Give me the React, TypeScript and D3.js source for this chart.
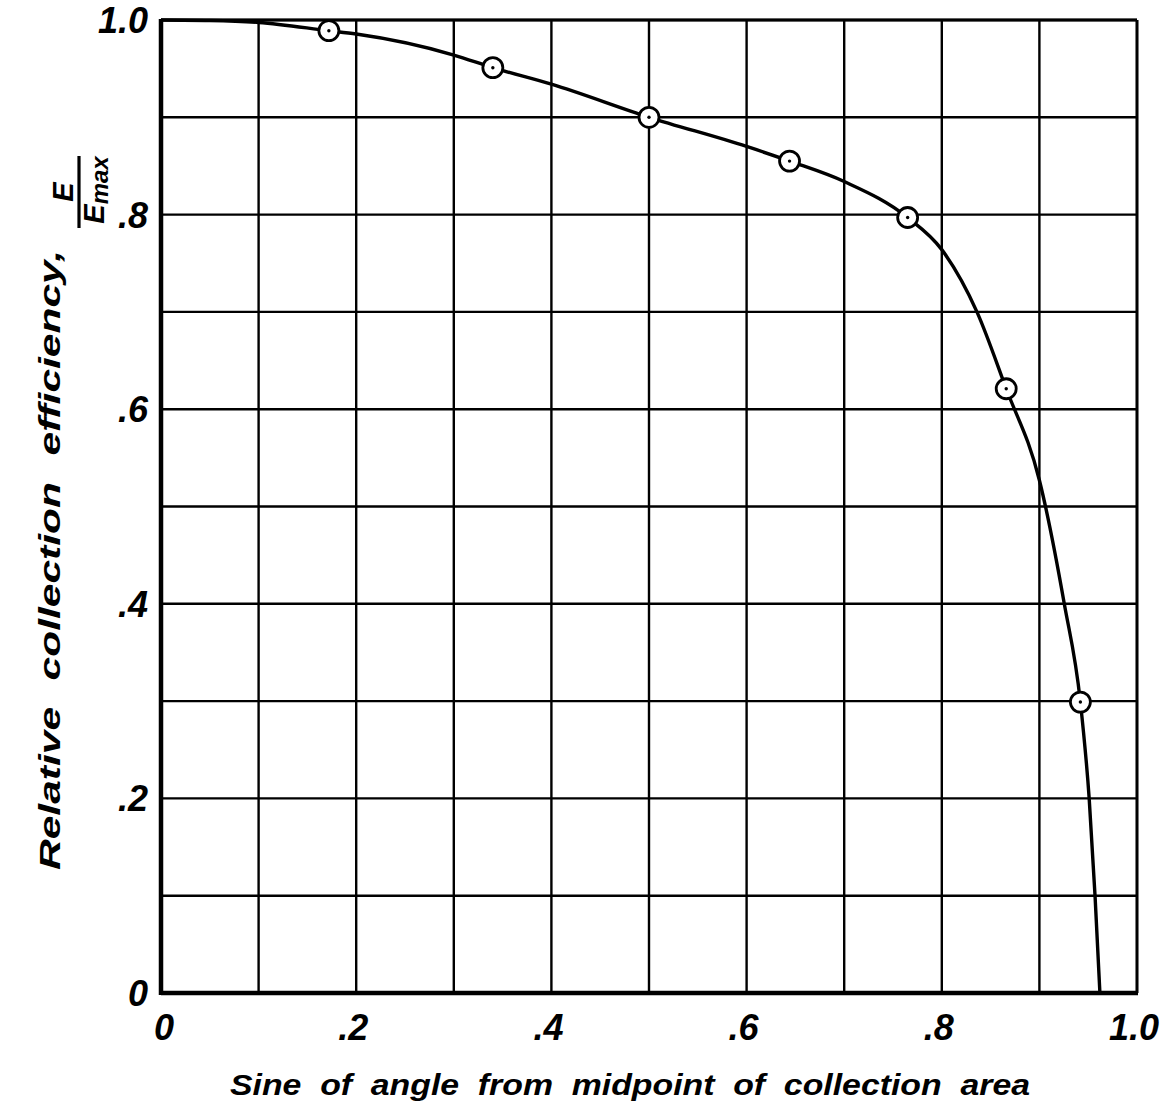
import React from "react";
import * as d3 from "d3";

// Measured points: sine of angle (10°..70°) vs relative efficiency
const pointSine = [0.172, 0.34, 0.5, 0.644, 0.765, 0.866, 0.942];
const pointEff = [0.989, 0.951, 0.9, 0.855, 0.797, 0.621, 0.299];

// Faired curve through the data
const curveSine = [0, 0.05, 0.1, 0.172, 0.2, 0.3, 0.34, 0.4, 0.5, 0.6, 0.644, 0.7, 0.765, 0.8, 0.836, 0.866, 0.9, 0.9255, 0.942, 0.951, 0.957, 0.962];
const curveEff = [1.0, 0.9995, 0.9975, 0.989, 0.9856, 0.964, 0.951, 0.934, 0.9, 0.87, 0.855, 0.834, 0.797, 0.764, 0.7, 0.621, 0.527, 0.4, 0.299, 0.2, 0.1, 0.0];

const gridValues = [0, 0.1, 0.2, 0.3, 0.4, 0.5, 0.6, 0.7, 0.8, 0.9, 1.0];
const tickValues = [0, 0.2, 0.4, 0.6, 0.8, 1.0];
const tickLabels = ["0", ".2", ".4", ".6", ".8", "1.0"];

const FONT = "'Liberation Sans', Arial, sans-serif";

export default function App() {
  const left = 161, right = 1137, top = 20, bottom = 993;
  const x = d3.scaleLinear().domain([0, 1]).range([left, right]);
  const y = d3.scaleLinear().domain([0, 1]).range([bottom, top]);

  const curvePts: [number, number][] = curveSine.map((s, i) => [s, curveEff[i]]);
  const line = d3
    .line<[number, number]>()
    .x((d) => x(d[0]))
    .y((d) => y(d[1]))
    .curve(d3.curveMonotoneX);

  const textStyle = {
    fontFamily: FONT,
    fontStyle: "italic" as const,
    fontWeight: "bold" as const,
    fill: "#000",
  };

  return (
    <svg
      width={1171}
      height={1113}
      style={{ position: "absolute", left: 0, top: 0, background: "#fff" }}
    >
      <rect width={1171} height={1113} fill="#fff" />
      {/* grid */}
      {gridValues.map((v) => (
        <line key={"gx" + v} x1={x(v)} x2={x(v)} y1={top} y2={bottom} stroke="#000" strokeWidth={2.4} />
      ))}
      {gridValues.map((v) => (
        <line key={"gy" + v} x1={left} x2={right} y1={y(v)} y2={y(v)} stroke="#000" strokeWidth={2.4} />
      ))}
      {/* frame */}
      <line x1={left} x2={left} y1={top - 1} y2={bottom + 2} stroke="#000" strokeWidth={4.5} />
      <line x1={left} x2={right + 1} y1={bottom} y2={bottom} stroke="#000" strokeWidth={4.5} />
      <line x1={left} x2={right} y1={top} y2={top} stroke="#000" strokeWidth={3} />
      <line x1={right} x2={right} y1={top} y2={bottom} stroke="#000" strokeWidth={2.8} />

      {/* curve */}
      <path d={line(curvePts) || ""} fill="none" stroke="#000" strokeWidth={3.4} />

      {/* data points */}
      {pointSine.map((s, i) => (
        <g key={"p" + i}>
          <circle cx={x(s)} cy={y(pointEff[i])} r={10} fill="#fff" stroke="#000" strokeWidth={2.8} />
          <circle cx={x(s)} cy={y(pointEff[i])} r={1.7} fill="#000" />
        </g>
      ))}

      {/* y tick labels */}
      {tickValues.map((v, i) => (
        <text
          key={"yt" + v}
          x={left - 13}
          y={y(v) + 13}
          textAnchor="end"
          fontSize={36}
          style={textStyle}
        >
          {tickLabels[i]}
        </text>
      ))}
      {/* x tick labels */}
      {tickValues.map((v, i) => (
        <text
          key={"xt" + v}
          x={x(v) + (i === 0 ? 3 : -3)}
          y={bottom + 47}
          textAnchor="middle"
          fontSize={36}
          style={textStyle}
        >
          {tickLabels[i]}
        </text>
      ))}

      {/* x axis title */}
      <text
        x={630}
        y={1095}
        textAnchor="middle"
        fontSize={29}
        wordSpacing={8}
        textLength={800}
        lengthAdjust="spacingAndGlyphs"
        style={textStyle}
      >
        Sine of angle from midpoint of collection area
      </text>

      {/* y axis title */}
      <g transform="translate(60,560) rotate(-90)">
        <text
          x={0}
          y={0}
          textAnchor="middle"
          fontSize={29}
          wordSpacing={10}
          textLength={620}
          lengthAdjust="spacingAndGlyphs"
          style={textStyle}
        >
          Relative collection efficiency,
        </text>
      </g>
      <g transform="translate(-7,192) rotate(-90)">
        <text x={0} y={80} textAnchor="middle" fontSize={29} style={textStyle}>
          E
        </text>
        <line x1={-36} x2={36} y1={86} y2={86} stroke="#000" strokeWidth={3.2} />
        <text x={2} y={111} textAnchor="middle" fontSize={29} style={textStyle}>
          E
          <tspan fontSize={24} dy={4}>max</tspan>
        </text>
      </g>
    </svg>
  );
}
